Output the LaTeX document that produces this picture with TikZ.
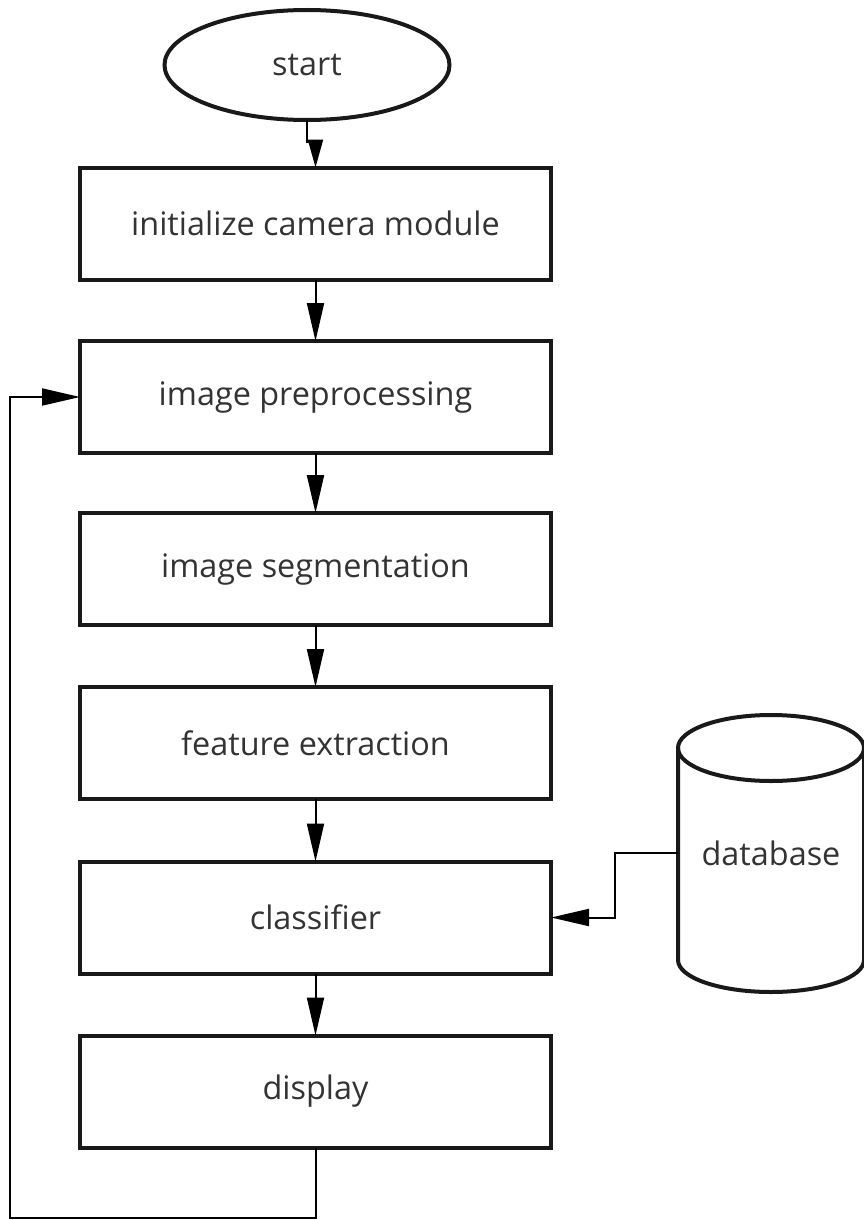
\documentclass[tikz,border=0pt]{standalone}
\usepackage{fontspec}
\setmainfont{Open Sans}
\usetikzlibrary{arrows.meta,shapes.geometric}
\definecolor{txt}{gray}{0.2}
\begin{document}
\begin{tikzpicture}[x=1pt,y=-1pt,
  every node/.style={font=\fontsize{32.4}{36}\selectfont, text=txt},
  procbox/.style={draw=black!90, line width=4pt, rectangle, minimum width=471pt, minimum height=112pt, inner sep=0pt, outer sep=0pt},
  arr/.style={draw=black, line width=2pt, -{Triangle[length=38pt,width=17pt]}},
  line/.style={draw=black, line width=2pt}]
\useasboundingbox (0,0) rectangle (864,1220);
\node[draw=black!90, line width=4pt, ellipse, minimum width=285pt, minimum height=110pt, inner sep=0pt, outer sep=0pt] (start) at (307,65) {start};
\node[procbox] (b1) at (315.5,223.5) {initialize camera module};
\node[procbox] (b2) at (315.5,397) {image preprocessing};
\node[procbox] (b3) at (315.5,569) {image segmentation};
\node[procbox] (b4) at (315.5,743) {feature extraction};
\node[procbox] (b5) at (315.5,917.5) {classifier};
\node[procbox] (b6) at (315.5,1091.5) {display};
% database cylinder
\draw[draw=black!90, line width=4pt] (771,748) ellipse [x radius=93, y radius=33];
\draw[draw=black!90, line width=4pt] (678,748) -- (678,960) arc[start angle=180, end angle=0, x radius=93, y radius=32] -- (864,748);
\node[rectangle, minimum width=186pt, minimum height=150pt, inner sep=0pt, outer sep=0pt] (db) at (771,853) {database};
% connectors
\coordinate (sc) at (307,142);
\draw[line width=2pt, -{Triangle[length=28pt,width=15pt]}] (start.south) -- (sc) -| (b1.north);
\draw[arr] (b1.south) -- (b2.north);
\draw[arr] (b2.south) -- (b3.north);
\draw[arr] (b3.south) -- (b4.north);
\draw[arr] (b4.south) -- (b5.north);
\draw[arr] (b5.south) -- (b6.north);
\coordinate (lb) at (10,1218);
\coordinate (lt) at (10,397);
\draw[arr] (b6.south) |- (lb) -- (lt) -- (b2.west);
\coordinate (dc) at (615,853);
\draw[arr] (db.west) -- (dc) |- (b5.east);
\end{tikzpicture}
\end{document}
